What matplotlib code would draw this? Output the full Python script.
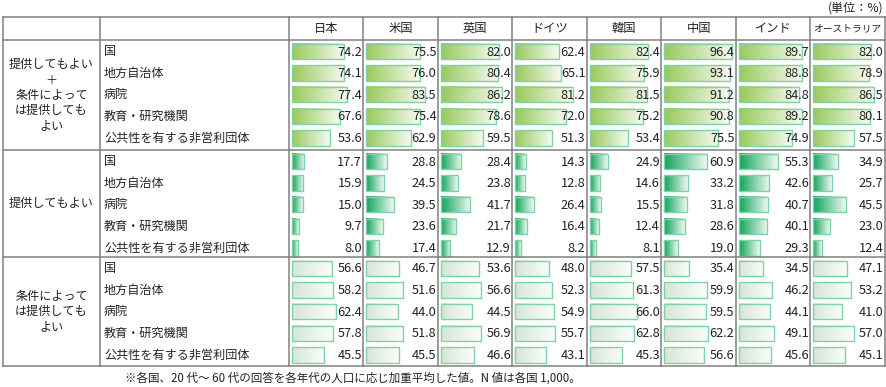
import numpy as np
import matplotlib.pyplot as plt
from matplotlib.colors import LinearSegmentedColormap
from matplotlib.patches import Rectangle

plt.rcParams['font.family'] = ['Noto Sans CJK JP', 'DejaVu Sans']

countries = ['日本', '米国', '英国', 'ドイツ', '韓国', '中国', 'インド', 'オーストラリア']
orgs = ['国', '地方自治体', '病院', '教育・研究機関', '公共性を有する非営利団体']
groups = ['提供してもよい\n＋\n条件によって\nは提供しても\nよい',
          '提供してもよい',
          '条件によって\nは提供しても\nよい']

# 提供してもよい + 条件によっては提供してもよい (国ごとに5項目)
vals_total = [
    [74.2, 74.1, 77.4, 67.6, 53.6],
    [75.5, 76.0, 83.5, 75.4, 62.9],
    [82.0, 80.4, 86.2, 78.6, 59.5],
    [62.4, 65.1, 81.2, 72.0, 51.3],
    [82.4, 75.9, 81.5, 75.2, 53.4],
    [96.4, 93.1, 91.2, 90.8, 75.5],
    [89.7, 88.8, 84.8, 89.2, 74.9],
    [82.0, 78.9, 86.5, 80.1, 57.5],
]
# 提供してもよい
vals_ok = [
    [17.7, 15.9, 15.0, 9.7, 8.0],
    [28.8, 24.5, 39.5, 23.6, 17.4],
    [28.4, 23.8, 41.7, 21.7, 12.9],
    [14.3, 12.8, 26.4, 16.4, 8.2],
    [24.9, 14.6, 15.5, 12.4, 8.1],
    [60.9, 33.2, 31.8, 28.6, 19.0],
    [55.3, 42.6, 40.7, 40.1, 29.3],
    [34.9, 25.7, 45.5, 23.0, 12.4],
]
# 条件によっては提供してもよい
vals_cond = [
    [56.6, 58.2, 62.4, 57.8, 45.5],
    [46.7, 51.6, 44.0, 51.8, 45.5],
    [53.6, 56.6, 44.5, 56.9, 46.6],
    [48.0, 52.3, 54.9, 55.7, 43.1],
    [57.5, 61.3, 66.0, 62.8, 45.3],
    [35.4, 59.9, 59.5, 62.2, 56.6],
    [34.5, 46.2, 44.1, 49.1, 45.6],
    [47.1, 53.2, 41.0, 57.0, 45.1],
]
all_vals = [vals_total, vals_ok, vals_cond]

cmaps = [
    LinearSegmentedColormap.from_list('g1', ['#99c95c', '#f6faf1']),
    LinearSegmentedColormap.from_list('g2', ['#10a35a', '#f2f9f4']),
    LinearSegmentedColormap.from_list('g3', ['#d6e5d8', '#fbfdfb']),
]
edge_col = '#7dd3a6'
line_col = '#808080'
txt_col = '#222222'

fig = plt.figure(figsize=(8.86, 3.87), dpi=100)
ax = fig.add_axes([0, 0, 1, 1])
ax.set_xlim(0, 886)
ax.set_ylim(387, 0)
ax.axis('off')

# table geometry (pixels)
x_left, x_c1, x_c2, x_right = 3, 100, 289, 885
cw = (x_right - x_c2) / len(countries)
col_edges = [x_c2 + cw * i for i in range(len(countries) + 1)]
y_top, y_head = 17, 40
group_edges = [40, 150, 257, 366]
pitch = 21.6
scale = 0.705  # px per %
bh = 15.5

grad = np.linspace(0, 1, 256).reshape(1, -1)

for gi, vals in enumerate(all_vals):
    g0, g1 = group_edges[gi], group_edges[gi + 1]
    ax.text((x_left + x_c1) / 2, (g0 + g1) / 2, groups[gi], ha='center', va='center',
            fontsize=8.7, linespacing=1.22, color=txt_col)
    for ri, org in enumerate(orgs):
        yc = g0 + 11.5 + pitch * ri
        ax.text(x_c1 + 4, yc, org, ha='left', va='center', fontsize=8.7, color=txt_col)
        for ci in range(len(countries)):
            v = vals[ci][ri]
            x0 = col_edges[ci] + 3
            w = v * scale
            ax.imshow(grad, cmap=cmaps[gi], aspect='auto', interpolation='bicubic',
                      extent=[x0, x0 + w, yc + bh / 2, yc - bh / 2], zorder=2)
            ax.add_patch(Rectangle((x0, yc - bh / 2), w, bh, fill=False,
                                   edgecolor=edge_col, lw=1.0, zorder=3))
            ax.text(col_edges[ci + 1] - 1.5, yc + 0.5, f'{v:.1f}', ha='right', va='center',
                    fontsize=9.2, color=txt_col, zorder=4)

# header
for ci, c in enumerate(countries):
    fs = 7 if len(c) > 4 else 8.8
    ax.text((col_edges[ci] + col_edges[ci + 1]) / 2, (y_top + y_head) / 2, c,
            ha='center', va='center', fontsize=fs, color=txt_col)

# grid lines
for y in [y_top, y_head] + group_edges[1:]:
    ax.plot([x_left, x_right], [y, y], color=line_col, lw=1.1, zorder=5)
for x in [x_left, x_c1] + col_edges:
    ax.plot([x, x], [y_top, group_edges[-1]], color=line_col, lw=1.1, zorder=5)

ax.text(884, 8, '(単位：%)', ha='right', va='center', fontsize=8.7, color=txt_col)
ax.text(125, 378, '※各国、20 代～ 60 代の回答を各年代の人口に応じ加重平均した値。N 値は各国 1,000。',
        ha='left', va='center', fontsize=8.3, color=txt_col)

fig.savefig('out.png', dpi=100)
